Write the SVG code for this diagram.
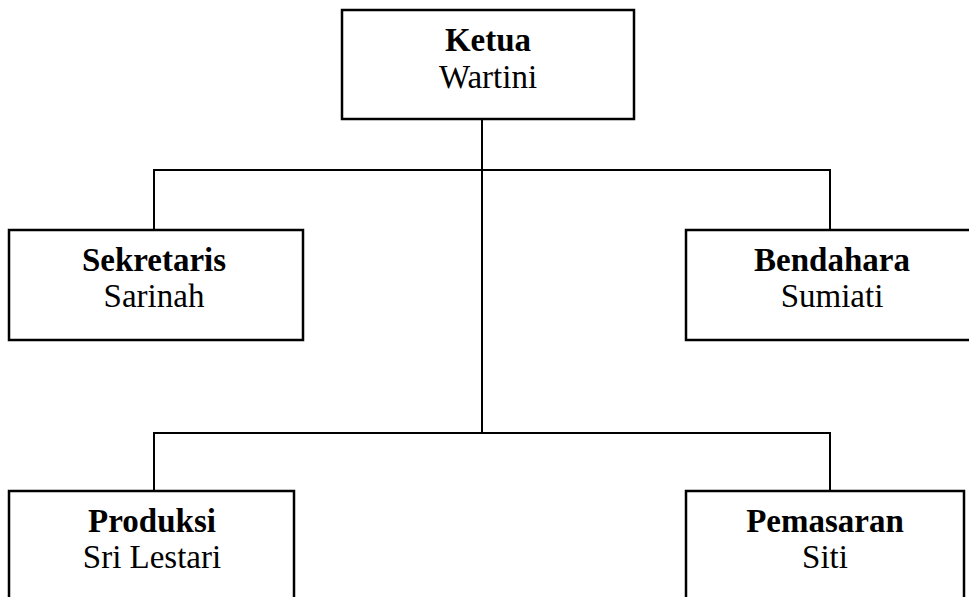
<svg xmlns="http://www.w3.org/2000/svg" width="969" height="597" viewBox="0 0 969 597">
<style>
.box{fill:#fff;stroke:#000;stroke-width:2.5}
.ln{fill:none;stroke:#000;stroke-width:2}
.t{font-family:"Liberation Serif","Times New Roman",serif;font-size:33px;text-anchor:middle;fill:#000}
.b{font-weight:bold}
</style>
<rect width="969" height="597" fill="#fff"/>
<g id="connectors">
<path class="ln" d="M482 119V433"/>
<path class="ln" d="M154 230V170H830V230"/>
<path class="ln" d="M154 491V433H830V491"/>
</g>
<g id="ketua">
<rect class="box" x="342" y="10" width="292" height="109"/>
<text class="t b" x="488" y="51">Ketua</text>
<text class="t" x="488" y="88">Wartini</text>
</g>
<g id="sekretaris">
<rect class="box" x="9" y="230" width="294" height="110"/>
<text class="t b" x="154" y="271">Sekretaris</text>
<text class="t" x="154" y="307">Sarinah</text>
</g>
<g id="bendahara">
<rect class="box" x="686" y="230" width="300" height="110"/>
<text class="t b" x="832" y="271">Bendahara</text>
<text class="t" x="832" y="307">Sumiati</text>
</g>
<g id="produksi">
<rect class="box" x="9" y="491" width="285" height="120"/>
<text class="t b" x="152" y="532">Produksi</text>
<text class="t" x="152" y="568">Sri Lestari</text>
</g>
<g id="pemasaran">
<rect class="box" x="686" y="491" width="278" height="120"/>
<text class="t b" x="825" y="532">Pemasaran</text>
<text class="t" x="825" y="568">Siti</text>
</g>
</svg>
